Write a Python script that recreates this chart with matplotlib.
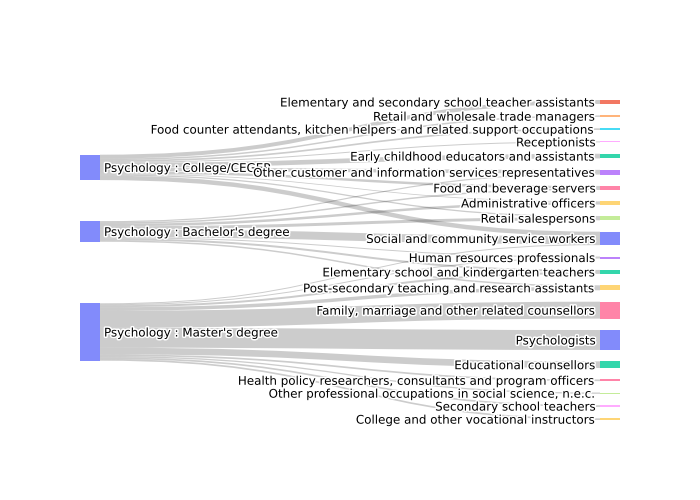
import matplotlib
matplotlib.use("Agg")
import matplotlib.pyplot as plt
import matplotlib.patheffects as pe
from matplotlib.path import Path
from matplotlib.patches import PathPatch, Rectangle

# ---------------- Data ----------------
sources = [
    "Psychology : College/CEGEP",
    "Psychology : Bachelor's degree",
    "Psychology : Master's degree",
]

targets = [
    "Elementary and secondary school teacher assistants",
    "Retail and wholesale trade managers",
    "Food counter attendants, kitchen helpers and related support occupations",
    "Receptionists",
    "Early childhood educators and assistants",
    "Other customer and information services representatives",
    "Food and beverage servers",
    "Administrative officers",
    "Retail salespersons",
    "Social and community service workers",
    "Human resources professionals",
    "Elementary school and kindergarten teachers",
    "Post-secondary teaching and research assistants",
    "Family, marriage and other related counsellors",
    "Psychologists",
    "Educational counsellors",
    "Health policy researchers, consultants and program officers",
    "Other professional occupations in social science, n.e.c.",
    "Secondary school teachers",
    "College and other vocational instructors",
]

# links: source index -> target index with value
link_source = [0, 0, 0, 0, 0, 0, 0, 0, 0, 0,
               1, 1, 1, 1, 1, 1, 1, 1,
               2, 2, 2, 2, 2, 2, 2, 2, 2, 2, 2]
link_target = [0, 1, 2, 3, 4, 5, 6, 7, 8, 9,
               5, 6, 7, 8, 9, 10, 11, 12,
               9, 10, 11, 12, 13, 14, 15, 16, 17, 18, 19]
link_value = [40, 15, 17, 10, 47, 35, 25, 8, 13, 45,
              12, 15, 25, 30, 80, 10, 20, 15,
              10, 10, 20, 35, 170, 200, 67, 17, 13, 17, 17]

# ---------------- Style ----------------
colorway = ["#636efa", "#EF553B", "#00cc96", "#ab63fa", "#FFA15A",
            "#19d3f3", "#FF6692", "#B6E880", "#FF97FF", "#FECB52"]
source_colours = [0, 0, 0]
target_colours = [1, 4, 5, 8, 2, 3, 6, 9, 7, 0,
                  3, 2, 9, 6, 0, 2, 6, 7, 8, 9]

W, H = 540, 320      # plot area in px
NODE_W = 20
PAD = 11.4
FONT_PX = 11.9
TEXT_DY = 1.0

# ---------------- Layout ----------------
src_val = [0] * len(sources)
tgt_val = [0] * len(targets)
for s, t, v in zip(link_source, link_target, link_value):
    src_val[s] += v
    tgt_val[t] += v

k = (H - (len(targets) - 1) * PAD) / sum(link_value)

# right column stacked top to bottom
tgt_y = []
y = 0.0
for v in tgt_val:
    tgt_y.append(y)
    y += v * k + PAD
tgt_c = [y0 + v * k / 2 for y0, v in zip(tgt_y, tgt_val)]

# left column: weighted centre of the targets, then resolve collisions
src_y = []
for i in range(len(sources)):
    num = sum(v * tgt_c[t] for s, t, v in zip(link_source, link_target, link_value) if s == i)
    c = num / src_val[i]
    src_y.append(c - src_val[i] * k / 2)
order = sorted(range(len(sources)), key=lambda i: src_y[i])
y = 0.0
for i in order:
    src_y[i] = max(src_y[i], y)
    y = src_y[i] + src_val[i] * k + PAD
over = y - PAD - H
if over > 0:
    y = H
    for i in reversed(order):
        src_y[i] = min(src_y[i], y - src_val[i] * k)
        y = src_y[i] - PAD

# link offsets at both ends
links = list(zip(link_source, link_target, link_value))
src_off = {}
for i in range(len(sources)):
    yy = src_y[i]
    for li in sorted([j for j, l in enumerate(links) if l[0] == i], key=lambda j: tgt_y[links[j][1]]):
        src_off[li] = yy
        yy += links[li][2] * k
tgt_off = {}
for t in range(len(targets)):
    yy = tgt_y[t]
    for li in sorted([j for j, l in enumerate(links) if l[1] == t], key=lambda j: src_y[links[j][0]]):
        tgt_off[li] = yy
        yy += links[li][2] * k

# ---------------- Plot ----------------
fig = plt.figure(figsize=(7, 5), dpi=100)
ax = fig.add_axes([80 / 700, 80 / 500, W / 700, H / 500])
ax.set_xlim(0, W)
ax.set_ylim(H, 0)
ax.axis("off")

x0, x1 = NODE_W, W - NODE_W
xm = (x0 + x1) / 2
for li, (s, t, v) in enumerate(links):
    h = v * k
    a, b = src_off[li], tgt_off[li]
    verts = [(x0, a), (xm, a), (xm, b), (x1, b),
             (x1, b + h), (xm, b + h), (xm, a + h), (x0, a + h), (x0, a)]
    codes = [Path.MOVETO, Path.CURVE4, Path.CURVE4, Path.CURVE4,
             Path.LINETO, Path.CURVE4, Path.CURVE4, Path.CURVE4, Path.CLOSEPOLY]
    ax.add_patch(PathPatch(Path(verts, codes), facecolor=(0, 0, 0, 0.2),
                           edgecolor="none", zorder=1))

halo = [pe.withStroke(linewidth=2.2, foreground="white")]
fs = FONT_PX * 72 / 100

for i, name in enumerate(sources):
    h = src_val[i] * k
    ax.add_patch(Rectangle((0, src_y[i]), NODE_W, h, facecolor=colorway[source_colours[i]],
                           alpha=0.8, edgecolor="none", zorder=2))
    ax.text(NODE_W + 4, src_y[i] + h / 2 + TEXT_DY, name, ha="left", va="center",
            fontsize=fs, family="DejaVu Sans", color="#000000", path_effects=halo,
            zorder=3, clip_on=False)

for i, name in enumerate(targets):
    h = tgt_val[i] * k
    ax.add_patch(Rectangle((x1, tgt_y[i]), NODE_W, h, facecolor=colorway[target_colours[i]],
                           alpha=0.8, edgecolor="none", zorder=2))
    ax.text(x1 - 4, tgt_y[i] + h / 2 + TEXT_DY, name, ha="right", va="center",
            fontsize=fs, family="DejaVu Sans", color="#000000", path_effects=halo,
            zorder=3, clip_on=False)

fig.savefig("out.png", dpi=100, facecolor="white")
